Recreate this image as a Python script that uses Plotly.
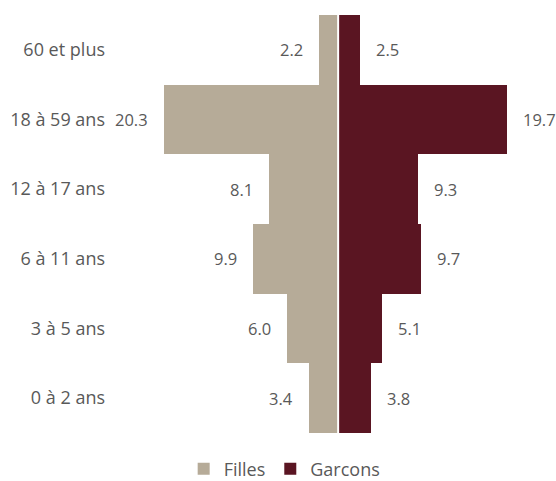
import plotly.graph_objects as go

categories = ["0 à 2 ans", "3 à 5 ans", "6 à 11 ans", "12 à 17 ans", "18 à 59 ans", "60 et plus"]
filles = [3.4, 6.0, 9.9, 8.1, 20.3, 2.2]
garcons = [3.8, 5.1, 9.7, 9.3, 19.7, 2.5]

c_f = "#B6AB98"
c_g = "#5A1522"
txt = "#595959"
font_family = "Open Sans, Noto Sans, sans-serif"

fig = go.Figure()
fig.add_trace(go.Bar(
    y=categories, x=[-v for v in filles], orientation="h", name="Filles",
    marker=dict(color=c_f, line=dict(width=0)),
    hoverinfo="skip",
))
fig.add_trace(go.Bar(
    y=categories, x=garcons, orientation="h", name="Garcons",
    marker=dict(color=c_g, line=dict(width=0)),
    hoverinfo="skip",
))

annotations = []
for cat, v in zip(categories, filles):
    annotations.append(dict(x=-v, y=cat, text=f"{v:.1f}", xanchor="right", yanchor="middle",
                            xshift=-14, showarrow=False, font=dict(size=16.5, color=txt, family=font_family)))
for cat, v in zip(categories, garcons):
    annotations.append(dict(x=v, y=cat, text=f"{v:.1f}", xanchor="left", yanchor="middle",
                            xshift=14, showarrow=False, font=dict(size=16.5, color=txt, family=font_family)))

fig.update_layout(
    width=556, height=481,
    margin=dict(l=110, r=0, t=15, b=48, autoexpand=False),
    barmode="relative", bargap=0,
    plot_bgcolor="white", paper_bgcolor="white",
    font=dict(family=font_family, color=txt, size=18),
    xaxis=dict(range=[-26.6, 25.4], showticklabels=False, showgrid=False,
               zeroline=False, showline=False, ticks="", fixedrange=True),
    yaxis=dict(showgrid=False, zeroline=False, showline=False, ticks="",
               tickfont=dict(size=18, color=txt), automargin=False,
               ticklabelstandoff=4),
    shapes=[dict(type="line", xref="x", yref="paper", x0=0, x1=0, y0=0, y1=1,
                 line=dict(color="white", width=2), layer="above")],
    legend=dict(orientation="h", xref="container", yref="paper",
                x=0.512, xanchor="center", y=-0.086, yanchor="middle",
                font=dict(size=18, color=txt), traceorder="normal",
                itemwidth=30, tracegroupgap=0),
    annotations=annotations,
    showlegend=True,
)

fig.write_html("out.html")
